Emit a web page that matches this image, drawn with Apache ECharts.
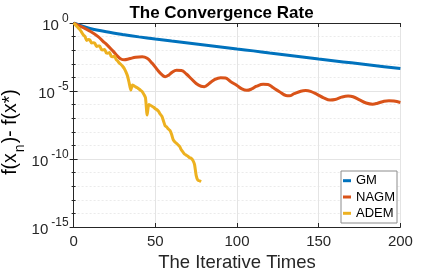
<!DOCTYPE html>
<html>
<head>
<meta charset="utf-8">
<script src="https://cdn.jsdelivr.net/npm/echarts@6/dist/echarts.min.js"></script>
<style>html,body{margin:0;padding:0;background:#fff}#c{width:443px;height:270px}</style>
</head>
<body>
<div id="c"></div>
<script>
// ---- data (y values are log10 of f(x_n) - f(x*)) ----
const xTicks = [0, 50, 100, 150, 200];
const yTickExponents = [0, -5, -10, -15];
const seriesNames = ['GM', 'NAGM', 'ADEM'];

const gmIter = [0, 5, 10, 20, 30, 40, 50, 60, 70, 80, 90, 100, 110, 120, 130, 140, 150, 160, 170, 180, 190, 200];
const gmExp  = [0, -0.22, -0.40, -0.64, -0.84, -1.02, -1.18, -1.33, -1.47, -1.61, -1.76, -1.91, -2.05, -2.20, -2.35, -2.50, -2.65, -2.79, -2.93, -3.07, -3.21, -3.35];

const nagmIter = [0, 5, 10, 15, 18, 20, 24, 27, 29, 31, 34, 38, 42, 45, 48, 51, 54, 56, 58, 60, 63, 66, 69, 72, 75, 78, 80, 83, 86, 90, 93, 96, 100, 103, 106, 109, 112, 116, 119, 122, 126, 130, 132, 135, 139, 142, 145, 149, 153, 157, 160, 164, 168, 171, 175, 179, 183, 186, 190, 193, 196, 200];
const nagmExp  = [0, -0.28, -0.60, -1.00, -1.35, -1.55, -2.05, -2.45, -2.65, -2.70, -2.63, -2.52, -2.48, -2.60, -2.95, -3.40, -3.80, -3.95, -3.85, -3.65, -3.48, -3.50, -3.75, -4.10, -4.45, -4.65, -4.68, -4.45, -4.18, -4.02, -4.05, -4.30, -4.60, -4.85, -4.95, -4.85, -4.65, -4.50, -4.52, -4.75, -5.05, -5.33, -5.35, -5.20, -5.02, -4.97, -5.03, -5.25, -5.50, -5.66, -5.62, -5.45, -5.37, -5.42, -5.65, -5.88, -5.97, -5.90, -5.75, -5.71, -5.74, -5.84];

const ademIter = [0,1,2,3,4,5,6,7,8,9,10,11,12,13,14,15,16,17,18,19,20,21,22,23,24,25,26,27,28,29,30,31,32,33,34,35,36,37,38,39,40,41,42,43,44,45,46,47,48,49,50,51,52,53,54,55,56,57,58,59,60,61,62,63,64,65,66,67,68,69,70,71,72,73,74,75,76,77,78];
const ademExp  = [0, -0.12, -0.25, -0.38, -0.50, -0.70, -0.88, -1.00, -1.28, -1.22, -1.25, -1.47, -1.45, -1.48, -1.72, -1.70, -1.70, -1.95, -1.98, -1.94, -2.20, -2.22, -2.17, -2.45, -2.48, -2.43, -2.68, -2.80, -2.95, -3.05, -3.18, -3.35, -3.60, -3.90, -4.40, -4.93, -4.56, -4.62, -4.70, -4.76, -4.85, -4.95, -5.05, -5.25, -5.50, -6.76, -6.00, -6.05, -6.12, -6.20, -6.30, -6.38, -6.50, -6.70, -6.85, -7.20, -7.55, -7.65, -7.80, -7.90, -8.20, -8.60, -8.75, -8.85, -8.97, -9.10, -9.34, -9.50, -9.65, -9.72, -9.80, -9.90, -9.95, -10.10, -10.40, -11.20, -11.55, -11.60, -11.67];

const colors = ['#0072BD', '#D95319', '#EDB120'];
const FONT = 'Liberation Sans, Arial, Helvetica, sans-serif';
const AX = '#262626';

const pair = (xs, ys) => xs.map((x, i) => [x, ys[i]]);

const chart = echarts.init(document.getElementById('c'), null, {renderer: 'canvas'});

const yLabelRich = {
  b: {fontSize: 15, lineHeight: 20, verticalAlign: 'bottom', color: AX, fontFamily: FONT},
  s: {fontSize: 12, lineHeight: 12, verticalAlign: 'top', color: AX, fontFamily: FONT, padding: [0, 0, 0, 3]}
};

const yBase = {
  type: 'value', min: -15, max: 0, interval: 5,
  axisLine: {show: true, lineStyle: {color: AX, width: 1}},
  axisTick: {show: true, inside: true, length: 4, lineStyle: {color: AX}},
  minorTick: {show: true, splitNumber: 5, length: 2, lineStyle: {color: AX}},
};

chart.setOption({
  animation: false,
  backgroundColor: '#fff',
  textStyle: {fontFamily: FONT},
  title: {
    text: 'The Convergence Rate', left: 'center', top: 0,
    textStyle: {fontSize: 17, fontWeight: 'bold', color: '#000', fontFamily: FONT}
  },
  grid: {left: 73.6, right: 42.6, top: 23, bottom: 43, containLabel: false, outerBoundsMode: 'none'},
  legend: {
    orient: 'vertical', left: 341, top: 171,
    data: seriesNames, icon: 'rect', itemWidth: 8, itemHeight: 3, itemGap: 2.3,
    padding: [2.7, 2, 2.7, 2],
    backgroundColor: '#fff', borderColor: '#8c8c8c', borderWidth: 1, borderRadius: 0,
    textStyle: {fontSize: 13, lineHeight: 14, color: '#000', fontFamily: FONT}
  },
  xAxis: [
    {
      type: 'value', min: 0, max: 200, interval: 50, position: 'bottom',
      axisLine: {show: true, onZero: false, lineStyle: {color: AX, width: 1}},
      axisTick: {show: true, inside: true, length: 4, lineStyle: {color: AX}},
      axisLabel: {fontSize: 15, color: AX, margin: 7, fontFamily: FONT,
        customValues: xTicks},
      splitLine: {show: true, lineStyle: {color: '#e4e4e4', width: 1}},
      name: 'The Iterative Times', nameLocation: 'middle', nameGap: 23,
      nameTextStyle: {fontSize: 18.5, color: AX, fontFamily: FONT}
    },
    {
      type: 'value', min: 0, max: 200, interval: 50, position: 'top',
      axisLine: {show: true, onZero: false, lineStyle: {color: AX, width: 1}},
      axisTick: {show: true, inside: true, length: 4, lineStyle: {color: AX}},
      axisLabel: {show: false}, splitLine: {show: false}
    }
  ],
  yAxis: [
    Object.assign({}, yBase, {
      position: 'left',
      axisLabel: {
        margin: 5, customValues: yTickExponents,
        formatter: v => '{b|10}{s|' + (v === 0 ? '0' : String(v).replace('\u2212', '-')) + '}',
        rich: yLabelRich
      },
      splitLine: {show: true, lineStyle: {color: '#e4e4e4', width: 1}},
      minorSplitLine: {show: true, lineStyle: {color: '#ebebeb', width: 1, type: [2, 2]}}
    }),
    Object.assign({}, yBase, {
      position: 'right',
      axisLabel: {show: false}, splitLine: {show: false}
    })
  ],
  graphic: [{
    type: 'text', x: 14, y: 132, rotation: Math.PI / 2,
    style: {
      text: '{a|f(x}{n|n}{a|)- f(x*)}',
      align: 'center', verticalAlign: 'middle',
      rich: {
        a: {fontSize: 19.5, lineHeight: 19.5, verticalAlign: 'top', color: AX, fontFamily: FONT},
        n: {fontSize: 14, lineHeight: 27, verticalAlign: 'bottom', color: AX, fontFamily: FONT, padding: [0, 1, 0, 1]}
      }
    }
  }],
  series: [
    {name: 'GM', type: 'line', data: pair(gmIter, gmExp), smooth: 0.3, showSymbol: false,
     lineStyle: {width: 3, color: colors[0]}, itemStyle: {color: colors[0]}, z: 3},
    {name: 'NAGM', type: 'line', data: pair(nagmIter, nagmExp), smooth: 0.4, showSymbol: false,
     lineStyle: {width: 3, color: colors[1]}, itemStyle: {color: colors[1]}, z: 4},
    {name: 'ADEM', type: 'line', data: pair(ademIter, ademExp), smooth: 0.2, showSymbol: false,
     lineStyle: {width: 3, color: colors[2]}, itemStyle: {color: colors[2]}, z: 5}
  ]
});
</script>
</body>
</html>
